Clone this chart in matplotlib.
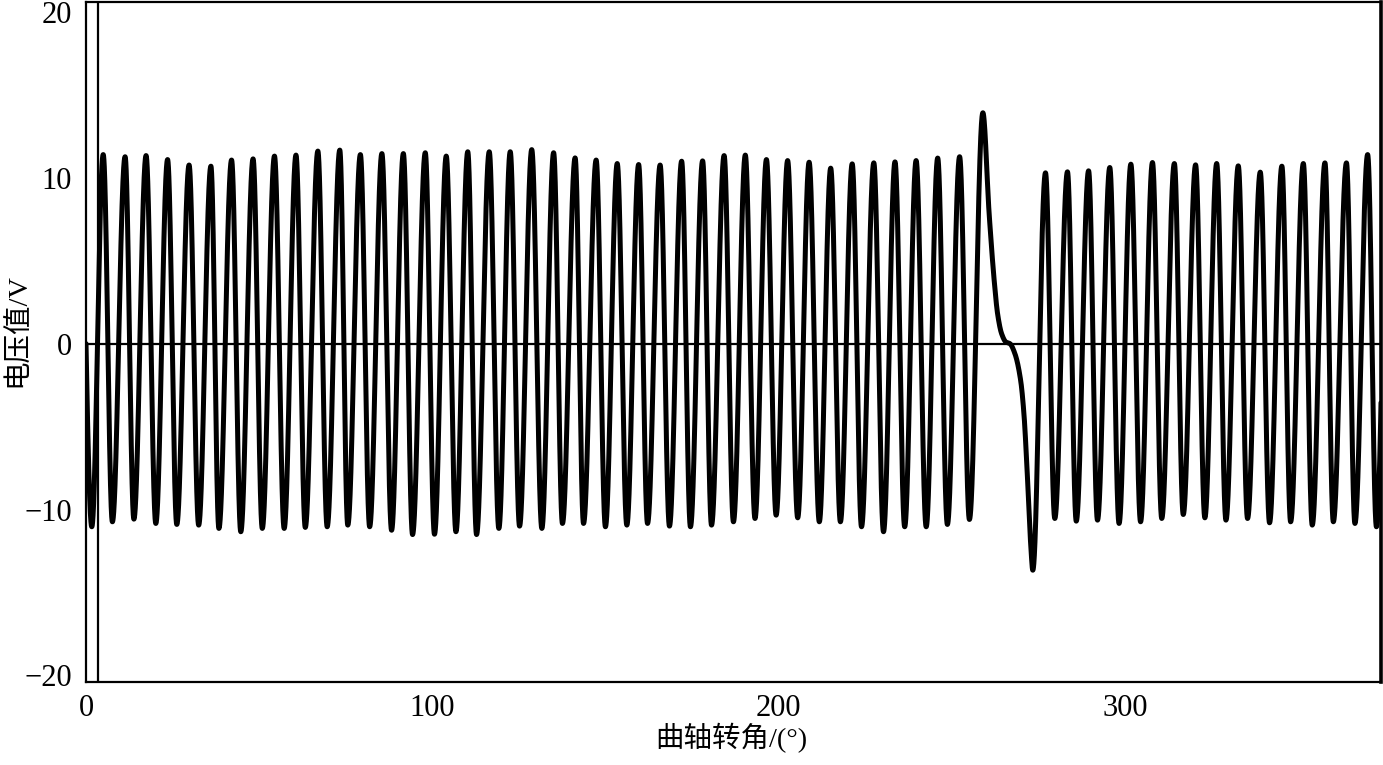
import numpy as np
import matplotlib
matplotlib.use("Agg")
import matplotlib.pyplot as plt

# ---------------- data ----------------
# crank angle (deg) and voltage (V) of the peaks
peak_deg = [4.97, 11.29, 17.35, 23.56, 29.77, 36.07, 42.04, 48.25, 54.43, 60.64,
            66.96, 73.29, 79.24, 85.45, 91.65, 97.98, 104.04, 110.25, 116.46, 122.52,
            128.73, 135.05, 141.26, 147.33, 153.42, 159.60, 165.81, 172.02, 178.08, 184.29,
            190.41, 196.51, 202.63, 208.84, 215.07, 221.28, 227.52, 233.64, 239.74, 245.97,
            252.30, 259.02,
            277.10, 283.45, 289.55, 295.67, 301.76, 308.00, 314.32, 320.45, 326.54, 332.78,
            339.13, 345.37, 351.57, 357.81, 364.02, 370.14]
peak_v = [11.40, 11.27, 11.34, 11.10, 10.77, 10.70, 11.07, 11.14, 11.31, 11.37,
          11.61, 11.67, 11.40, 11.46, 11.46, 11.51, 11.31, 11.57, 11.57, 11.57,
          11.70, 11.51, 11.20, 11.07, 10.86, 10.80, 10.77, 11.00, 11.02, 11.34,
          11.37, 11.10, 11.04, 10.94, 10.58, 10.84, 10.90, 10.96, 11.04, 11.19,
          11.27, 13.92,
          10.30, 10.36, 10.42, 10.62, 10.82, 10.92, 10.86, 10.78, 10.86, 10.72,
          10.34, 10.70, 10.86, 10.90, 10.90, 11.40]

# crank angle (deg) and voltage (V) of the troughs
trough_deg = [1.67, 7.62, 13.83, 20.16, 26.22, 32.54, 38.38, 44.70, 50.91, 57.23,
              63.33, 69.65, 75.60, 81.92, 88.25, 94.31, 100.64, 106.84, 112.79, 119.23,
              125.21, 131.65, 137.60, 143.69, 150.01, 156.19, 162.17, 168.50, 174.56, 180.65,
              186.98, 193.21, 199.31, 205.54, 211.78, 217.87, 223.97, 230.32, 236.44, 242.65,
              248.77, 255.13,
              273.43,
              279.79, 285.99, 292.12, 298.35, 304.56, 310.68, 316.89, 323.13, 329.22, 335.46,
              341.81, 347.90, 354.14, 360.23, 366.47, 372.68]
trough_v = [-11.04, -10.74, -10.58, -10.84, -10.90, -10.94, -11.14, -11.34, -11.14, -11.14,
            -11.08, -11.04, -10.94, -11.04, -11.25, -11.51, -11.49, -11.34, -11.51, -11.14,
            -11.00, -11.14, -10.84, -10.84, -11.04, -10.94, -10.84, -11.00, -11.04, -10.94,
            -10.74, -10.54, -10.34, -10.50, -10.74, -10.74, -11.04, -11.34, -11.04, -11.04,
            -10.90, -10.60,
            -13.66,
            -10.54, -10.70, -10.64, -10.84, -10.74, -10.54, -10.30, -10.50, -10.64, -10.54,
            -10.80, -10.74, -10.94, -10.74, -10.84, -11.04]

# points along the missing-tooth transition
gap_deg = [260.84, 262.29, 263.27, 264.43, 265.67, 266.83, 268.27, 269.92, 270.87, 271.94, 272.89]
gap_v = [7.8, 3.8, 1.8, 0.6, 0.1, 0.0, -0.6, -2.2, -4.2, -8.25, -12.3]

# start and end of the trace
end_deg = [0.0, 374.3]
end_v = [0.0, 0.0]

marker_deg = 3.4          # vertical reference line
x_ticks = [0, 100, 200, 300]
y_ticks = [-20, -10, 0, 10, 20]
x_label = "曲轴转角/(°)"
y_label = "电压值/V"


# ---------------- smooth curve through the read points ----------------
def smooth_curve(x, y, xn):
    """Monotone cubic Hermite (PCHIP); segments joining two extrema use a
    half-cosine shape so the teeth look like the sensor's sine-like signal."""
    x = np.asarray(x, float)
    y = np.asarray(y, float)
    h = np.diff(x)
    delta = np.diff(y) / h
    n = len(x)
    d = np.zeros(n)
    for k in range(1, n - 1):
        if delta[k - 1] * delta[k] > 0:
            w1 = 2 * h[k] + h[k - 1]
            w2 = h[k] + 2 * h[k - 1]
            d[k] = (w1 + w2) / (w1 / delta[k - 1] + w2 / delta[k])

    def endslope(h0, h1, d0, d1):
        s = ((2 * h0 + h1) * d0 - h0 * d1) / (h0 + h1)
        if np.sign(s) != np.sign(d0):
            s = 0.0
        elif np.sign(d0) != np.sign(d1) and abs(s) > abs(3 * d0):
            s = 3 * d0
        return s

    d[0] = endslope(h[0], h[1], delta[0], delta[1])
    d[-1] = endslope(h[-1], h[-2], delta[-1], delta[-2])
    idx = np.clip(np.searchsorted(x, xn) - 1, 0, n - 2)
    t = (xn - x[idx]) / h[idx]
    h00 = 2 * t**3 - 3 * t**2 + 1
    h10 = t**3 - 2 * t**2 + t
    h01 = -2 * t**3 + 3 * t**2
    h11 = t**3 - t**2
    out = (h00 * y[idx] + h10 * h[idx] * d[idx]
           + h01 * y[idx + 1] + h11 * h[idx] * d[idx + 1])
    both_ext = (d[idx] == 0) & (d[idx + 1] == 0)
    cosv = y[idx] + (y[idx + 1] - y[idx]) * (1 - np.cos(np.pi * t)) / 2
    return np.where(both_ext, cosv, out)


xs = np.array(peak_deg + trough_deg + gap_deg + end_deg)
ys = np.array(peak_v + trough_v + gap_v + end_v)
order = np.argsort(xs)
xs, ys = xs[order], ys[order]
xd = np.linspace(xs[0], xs[-1], 30000)
yd = smooth_curve(xs, ys, xd)

# ---------------- figure ----------------
num_font = ["Liberation Serif", "DejaVu Serif"]
mix_font = ["Liberation Serif", "Noto Sans CJK SC", "DejaVu Sans"]

fig = plt.figure(figsize=(13.83, 7.65), dpi=100)
ax = fig.add_axes([86 / 1383, 1 - 682 / 765, 1295 / 1383, 680 / 765])

ax.plot(xd, yd, color="black", lw=3.6, solid_capstyle="round", solid_joinstyle="round")
ax.axhline(0, color="black", lw=1.6)
ax.axvline(marker_deg, color="black", lw=1.6)

ax.set_xlim(0, 374)
ax.set_ylim(-20.4, 20.6)
ax.set_xticks(x_ticks)
ax.set_yticks(y_ticks)
ax.tick_params(length=0, labelsize=22)
ax.tick_params(axis="y", pad=10)
ax.tick_params(axis="x", pad=9)
for lab in ax.get_xticklabels() + ax.get_yticklabels():
    lab.set_fontfamily(num_font)

for side in ["left", "bottom", "top"]:
    ax.spines[side].set_linewidth(1.6)
ax.spines["right"].set_linewidth(2.6)

fig.text(731 / 1383, 1 - 738 / 765, x_label, ha="center", va="center",
         fontsize=20.5, family=mix_font)
fig.text(18 / 1383, 1 - 330 / 765, y_label, ha="center", va="center",
         rotation=90, fontsize=20.5, family=mix_font)

fig.savefig("out.png", dpi=100, facecolor="white")
